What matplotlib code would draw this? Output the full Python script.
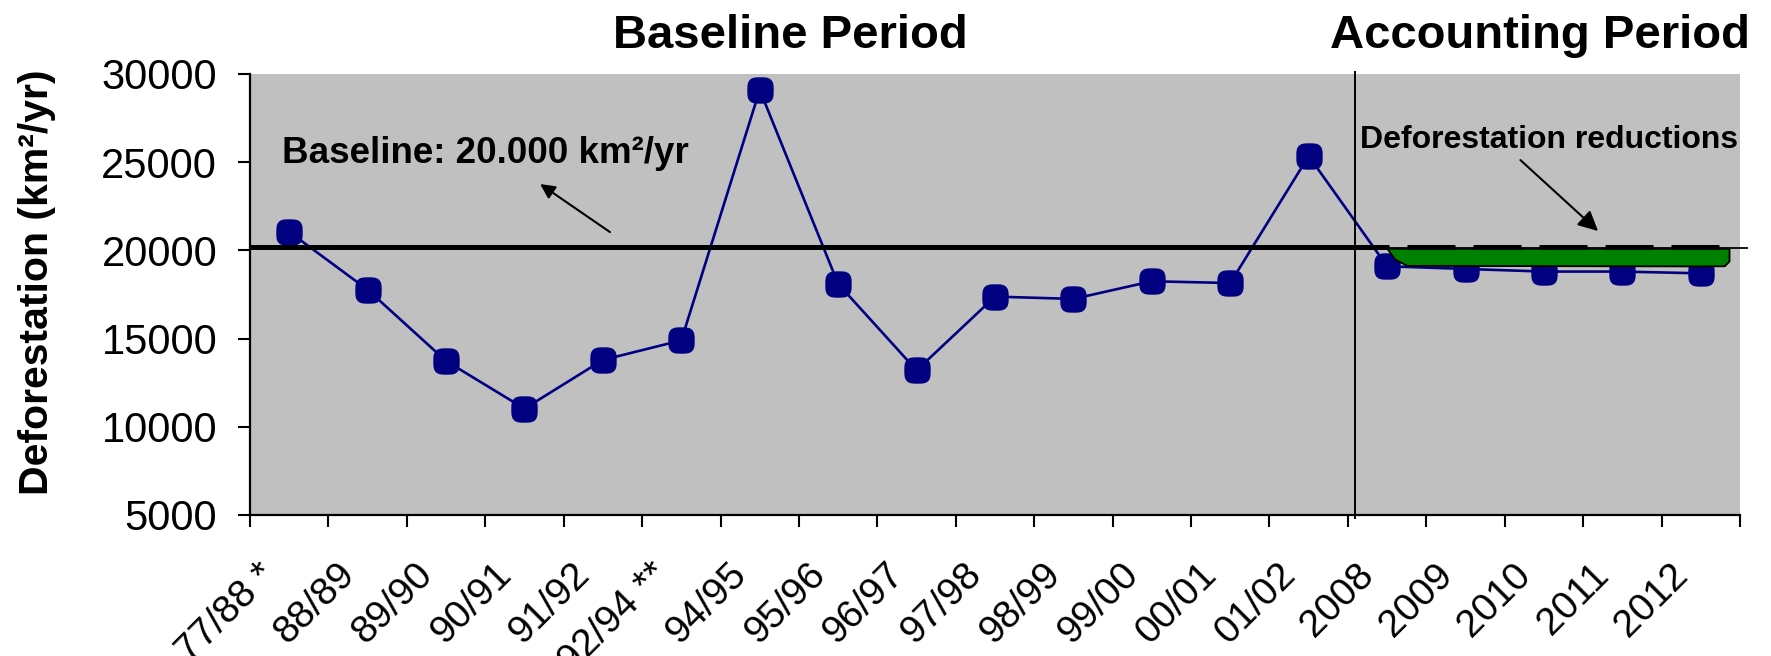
import numpy as np
import matplotlib
matplotlib.use("Agg")
import matplotlib.pyplot as plt
from matplotlib.path import Path
import matplotlib.transforms as mtrans

plt.rcParams['font.family'] = ['Liberation Sans', 'DejaVu Sans']

# ---------------- data ----------------
categories = ["77/88 *", "88/89", "89/90", "90/91", "91/92", "92/94 **", "94/95",
              "95/96", "96/97", "97/98", "98/99", "99/00", "00/01", "01/02",
              "2008", "2009", "2010", "2011", "2012"]
deforestation = [21050, 17770, 13730, 11030, 13790, 14900, 29100, 18100, 13200,
                 17380, 17250, 18250, 18150, 25350, 19100, 18950, 18800, 18800, 18700]
baseline_value = 20180
accounting_start = "2008"
reduction_x = [14.0, 14.1, 14.25, 18.0, 18.3, 18.36]
reduction_bottom = [20100, 19500, 19150, 19120, 19130, 19400]
yticks = [5000, 10000, 15000, 20000, 25000, 30000]

# ---------------- figure ----------------
W, H = 1771, 656
fig = plt.figure(figsize=(W / 100, H / 100), dpi=100)
fig.patch.set_facecolor("white")
L, R, T, B = 250, 1740, 74, 515
ax = fig.add_axes([L / W, 1 - B / H, (R - L) / W, (B - T) / H])
ax.set_facecolor("#C0C0C0")

x = np.arange(len(categories))
navy = "#000080"

# rounded-square marker
t = np.linspace(0, 2 * np.pi, 80)
ex = 0.6
mx = np.sign(np.cos(t)) * np.abs(np.cos(t)) ** ex
my = np.sign(np.sin(t)) * np.abs(np.sin(t)) ** ex
rsq = Path(np.column_stack([mx, my]), closed=True)

ax.plot(x, deforestation, color=navy, lw=1.9, zorder=3)
ax.plot(x, deforestation, ls="none", marker=rsq, ms=18, color=navy,
        mec=navy, zorder=3)

acc_idx = categories.index(accounting_start)

# thick baseline during baseline period
ax.plot([-0.5, acc_idx + 0.02], [baseline_value, baseline_value],
        color="black", lw=3.6, solid_capstyle="butt", zorder=6)

# green reductions area
ax.fill_between(reduction_x, [baseline_value - 60] * len(reduction_x),
                reduction_bottom, facecolor="#008000", edgecolor="black",
                lw=1.3, zorder=4)

# thin line continuing the baseline
ax.plot([acc_idx + 0.02, 18.59], [baseline_value - 60, baseline_value - 60],
        color="black", lw=1.3, zorder=5, clip_on=False)
# dashed baseline during accounting period
ax.plot([acc_idx + 0.26, 18.26], [baseline_value, baseline_value],
        color="black", lw=3.6, dashes=(9.6, 3.6), dash_capstyle="butt", zorder=6)

# vertical separator
ax.plot([acc_idx - 0.41, acc_idx - 0.41], [4850, 30100], color="black",
        lw=1.4, zorder=6, clip_on=False)

# axes styling
ax.set_xlim(-0.5, len(categories) - 0.5)
ax.set_ylim(5000, 30000)
ax.set_yticks(yticks)
ax.set_yticklabels([str(v) for v in yticks])
ax.set_xticks(np.arange(-0.5, len(categories), 1.0))
ax.set_xticklabels([])
ax.set_xticks(x, minor=True)
ax.set_xticklabels(categories, minor=True, rotation=45, ha="right",
                   va="top", fontsize=28)
ax.tick_params(axis="x", which="minor", length=0, pad=30)
ax.tick_params(axis="x", which="major", direction="out", length=8.6, width=1.5)
ax.tick_params(axis="y", direction="out", length=8.6, width=1.5,
               labelsize=30, pad=15)
for s in ["top", "right"]:
    ax.spines[s].set_visible(False)
for s in ["left", "bottom"]:
    ax.spines[s].set_linewidth(1.6)

# shift x labels slightly left
off = mtrans.ScaledTranslation(-6 / 100, 0, fig.dpi_scale_trans)
for lab in ax.get_xticklabels(minor=True):
    lab.set_transform(lab.get_transform() + off)

# texts
fig.text(790 / W, 1 - 48 / H, "Baseline Period", ha="center", va="baseline",
         fontsize=34, fontweight="bold")
fig.text(1540 / W, 1 - 48 / H, "Accounting Period", ha="center", va="baseline",
         fontsize=34, fontweight="bold")
fig.text(37 / W, 1 - 282 / H, "Deforestation (km²/yr)", ha="center", va="center",
         rotation=90, fontsize=29.5, fontweight="bold")
fig.text(485 / W, 1 - 163 / H, "Baseline: 20.000 km²/yr", ha="center",
         va="baseline", fontsize=26.5, fontweight="bold")
fig.text(1549 / W, 1 - 148 / H, "Deforestation reductions", ha="center",
         va="baseline", fontsize=23, fontweight="bold")

# arrows
ax.annotate("", xy=(3.2, 23760), xytext=(4.09, 21040),
            arrowprops=dict(arrowstyle="-|>", color="black", lw=1.5,
                            mutation_scale=22, shrinkA=0, shrinkB=0), zorder=7)
ax.annotate("", xy=(16.69, 21100), xytext=(15.7, 25120),
            arrowprops=dict(arrowstyle="-|>", color="black", lw=1.5,
                            mutation_scale=30, shrinkA=0, shrinkB=0), zorder=7)

fig.savefig("out.png", dpi=100)
